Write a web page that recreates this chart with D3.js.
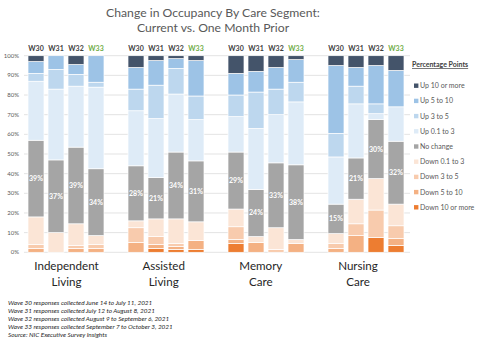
<!DOCTYPE html>
<html>
<head>
<meta charset="utf-8">
<script src="https://cdn.jsdelivr.net/npm/d3@7"></script>
<style>
  body { margin: 0; background: #fff; }
  text { font-family: Lato, "Open Sans", sans-serif; }
</style>
</head>
<body>
<div id="chart"></div>
<script>
// categories
const groups = ["Independent Living", "Assisted Living", "Memory Care", "Nursing Care"];
const waves = ["W30", "W31", "W32", "W33"];
// stack order, bottom to top
const keys = ["Down 10 or more", "Down 5 to 10", "Down 3 to 5", "Down 0.1 to 3", "No change",
              "Up 0.1 to 3", "Up 3 to 5", "Up 5 to 10", "Up 10 or more"];
const colors = ["#ed7d31", "#f4b183", "#f8cbad", "#fbe5d6", "#a5a5a5",
                "#deebf7", "#bdd7ee", "#9dc3e6", "#44546a"];

// share of respondents (%) per wave, in keys order
const independentLiving = [
  [0, 2, 2, 14, 39, 30, 4, 6, 3],
  [0, 0, 0, 10, 37, 36, 10, 7, 0],
  [0, 2, 1.5, 11, 39, 31, 6, 5, 4.5],
  [0, 2, 2, 4.5, 34, 41.5, 2.5, 13.5, 0]
];
const assistedLiving = [
  [0, 5, 7.5, 3.5, 28, 28, 11, 11, 6],
  [2, 2, 4, 9, 21, 30, 17, 12.5, 2.5],
  [1.5, 1.5, 1.5, 12.5, 34, 29.5, 13, 5, 1.5],
  [1.5, 4.5, 0, 9.5, 31, 21, 12, 18, 2.5]
];
const memoryCare = [
  [4.5, 2, 6.5, 9, 29, 18, 11, 11, 9],
  [0, 5, 0, 3, 24, 31, 18.5, 10.5, 8],
  [0, 0, 1.5, 11, 33, 24.5, 13, 11, 6],
  [0, 4.5, 0, 2, 38, 32, 10, 11.5, 2]
];
const nursingCare = [
  [0, 2, 2.5, 5, 15, 24, 12, 34.5, 5],
  [0, 8.5, 6, 12.5, 21, 27.5, 9, 9.5, 6],
  [7.5, 0, 14, 16, 30, 3, 5, 19.5, 5],
  [3.5, 3.5, 6.5, 11, 32, 17.5, 0, 18.5, 7.5]
];
const yTicks = [0, 10, 20, 30, 40, 50, 60, 70, 80, 90, 100];
const footnotes = [
  "Wave 30 responses collected June 14 to July 11, 2021",
  "Wave 31 responses collected July 12 to August 8, 2021",
  "Wave 32 responses collected August 9 to September 6, 2021",
  "Wave 33 responses collected September 7 to October 3, 2021",
  "Source: NIC Executive Survey Insights"
];

const allGroups = [independentLiving, assistedLiving, memoryCare, nursingCare];
const rows = [];
groups.forEach((g, gi) => {
  waves.forEach((w, wi) => {
    const r = { group: g, wave: w };
    keys.forEach((k, ki) => r[k] = allGroups[gi][wi][ki]);
    rows.push(r);
  });
});

const W = 481, H = 342;
const svg = d3.select("#chart").append("svg")
    .attr("width", W).attr("height", H);

// scales
const x0 = d3.scaleBand().domain(groups).range([26, 426]);
const x1 = d3.scaleBand().domain(waves).range([0, 80]).paddingInner(0.2).paddingOuter(0.1);
const y = d3.scaleLinear().domain([0, 100]).range([252.3, 55.7]);
const color = d3.scaleOrdinal().domain(keys).range(colors);

// title
svg.append("text").attr("x", 213).attr("y", 17).attr("text-anchor", "middle")
    .style("font-size", "12.2px").attr("fill", "#595959")
    .text("Change in Occupancy By Care Segment:");
svg.append("text").attr("x", 213).attr("y", 31.5).attr("text-anchor", "middle")
    .style("font-size", "12.2px").attr("fill", "#595959")
    .text("Current vs. One Month Prior");

// gridlines + y labels
svg.append("g").selectAll("line").data(yTicks).join("line")
    .attr("x1", 24).attr("x2", 410)
    .attr("y1", d => y(d)).attr("y2", d => y(d))
    .attr("stroke", "#d9d9d9").attr("stroke-width", 0.75);
svg.append("g").selectAll("text").data(yTicks).join("text")
    .attr("x", 19).attr("y", d => y(d) + 2)
    .attr("text-anchor", "end")
    .style("font-size", "6px").attr("fill", "#595959")
    .text(d => d + "%");

// stacked bars
const series = d3.stack().keys(keys)(rows);
svg.append("g").selectAll("g").data(series).join("g")
    .attr("fill", d => color(d.key))
    .selectAll("rect").data(d => d.filter(s => s[1] - s[0] > 0)).join("rect")
    .attr("x", d => x0(d.data.group) + x1(d.data.wave))
    .attr("width", x1.bandwidth())
    .attr("y", d => y(d[1]))
    .attr("height", d => y(d[0]) - y(d[1]))
    .attr("stroke", "#fff").attr("stroke-width", 0.7);

// "No change" labels
const nc = series.find(s => s.key === "No change");
svg.append("g").selectAll("text").data(nc).join("text")
    .attr("x", d => x0(d.data.group) + x1(d.data.wave) + x1.bandwidth() / 2)
    .attr("y", d => y((d[0] + d[1]) / 2) + 2.5)
    .attr("text-anchor", "middle")
    .style("font-size", "7px").style("font-weight", "bold")
    .attr("fill", "#fff")
    .text(d => (d[1] - d[0]) + "%");

// wave labels on top
svg.append("g").selectAll("text").data(rows).join("text")
    .attr("x", d => x0(d.group) + x1(d.wave) + x1.bandwidth() / 2)
    .attr("y", 50.5)
    .attr("text-anchor", "middle")
    .style("font-size", "7px").style("font-weight", "bold")
    .attr("fill", d => d.wave === "W33" ? "#70ad47" : "#404040")
    .text(d => d.wave);

// category labels
const xLab = d3.scalePoint().domain(groups).range([66.5, 358]);
groups.forEach(g => {
  const parts = g.split(" ");
  parts.forEach((p, i) => {
    svg.append("text").attr("x", xLab(g)).attr("y", 270 + i * 15.5)
        .attr("text-anchor", "middle")
        .style("font-size", "11.6px").attr("fill", "#262626")
        .text(p);
  });
});

// legend
const lg = svg.append("g").attr("transform", "translate(412,0)");
lg.append("text").attr("x", 0).attr("y", 67)
    .style("font-size", "7px").style("font-weight", "bold")
    .style("text-decoration", "underline")
    .attr("fill", "#404040")
    .text("Percentage Points");
const legendKeys = keys.slice().reverse();
const item = lg.selectAll("g.item").data(legendKeys).join("g")
    .attr("class", "item")
    .attr("transform", (d, i) => `translate(0, ${85.7 + i * 15.2})`);
item.append("rect").attr("x", 2).attr("y", -2.2).attr("width", 4.4).attr("height", 4.4)
    .attr("fill", d => color(d));
item.append("text").attr("x", 8).attr("y", 2.4)
    .style("font-size", "7px").attr("fill", "#595959")
    .text(d => d);

// footnotes
svg.append("g").selectAll("text").data(footnotes).join("text")
    .attr("x", 8).attr("y", (d, i) => 304.5 + i * 8)
    .style("font-size", "6.4px").style("font-style", "italic")
    .attr("fill", "#262626")
    .text(d => d);
</script>
</body>
</html>
